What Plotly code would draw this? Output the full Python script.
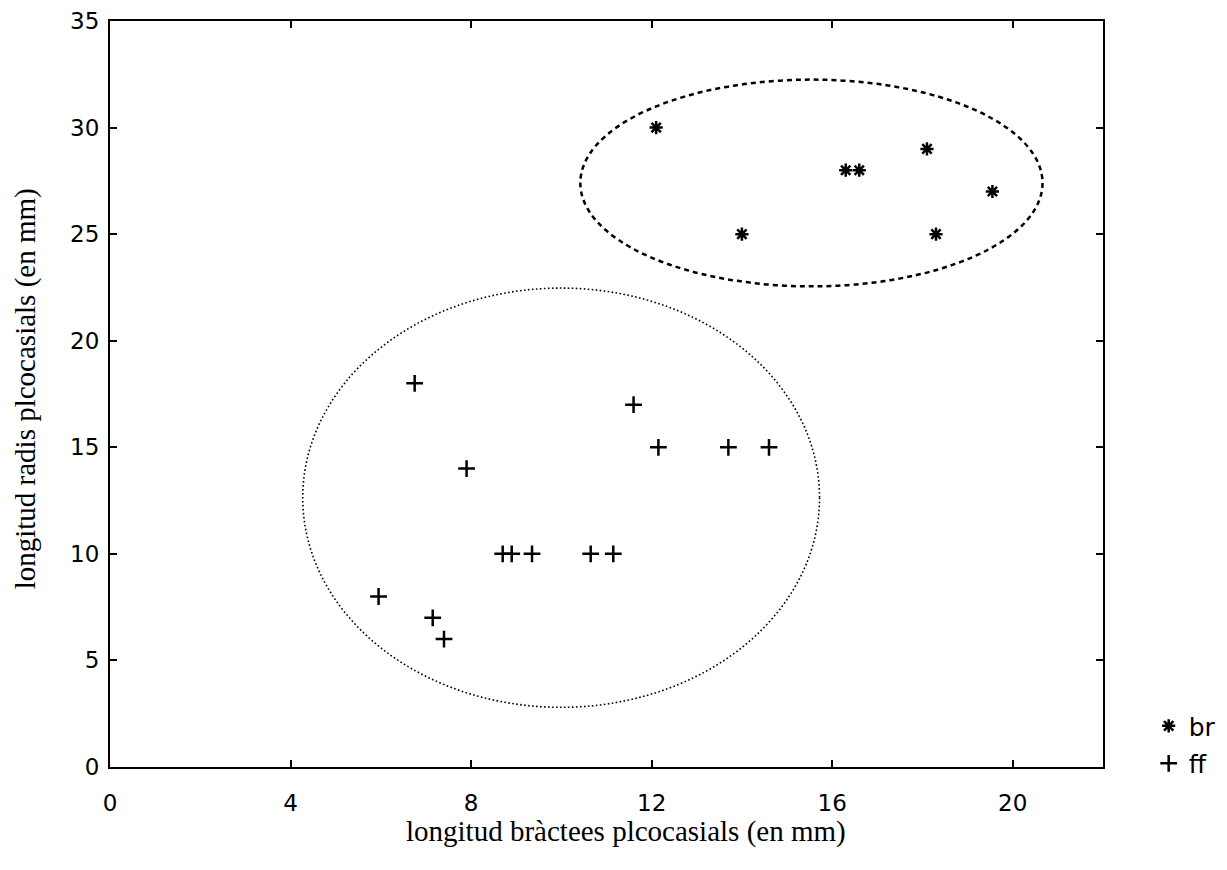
import plotly.graph_objects as go

# data
br_x = [12.1, 14.0, 16.3, 16.6, 18.1, 19.55, 18.3]
br_y = [30, 25, 28, 28, 29, 27, 25]
ff_x = [6.75, 11.6, 12.15, 13.7, 14.6, 7.9, 8.7, 8.9, 9.35, 10.65, 11.15, 5.95, 7.15, 7.4]
ff_y = [18, 17, 15, 15, 15, 14, 10, 10, 10, 10, 10, 8, 7, 6]
# ellipses: (x0, x1, y0, y1)
br_ellipse = [10.42, 20.66, 22.55, 32.25]
ff_ellipse = [4.27, 15.72, 2.80, 22.47]
x_ticks = [0, 4, 8, 12, 16, 20]
y_ticks = [0, 5, 10, 15, 20, 25, 30, 35]

fig = go.Figure()
fig.add_trace(go.Scatter(x=br_x, y=br_y, mode="markers", name="br", legendgroup="br",
                         marker=dict(symbol="asterisk-open", size=11, color="black",
                                     line=dict(width=2.5, color="black"))))
fig.add_trace(go.Scatter(x=ff_x, y=ff_y, mode="markers", name="ff", legendgroup="ff",
                         marker=dict(symbol="cross-thin-open", size=12, color="black",
                                     line=dict(width=2.5, color="black"))))

fig.add_shape(type="circle", xref="x", yref="y",
              x0=br_ellipse[0], x1=br_ellipse[1], y0=br_ellipse[2], y1=br_ellipse[3],
              line=dict(color="black", width=2.5, dash="5px,4px"))
fig.add_shape(type="circle", xref="x", yref="y",
              x0=ff_ellipse[0], x1=ff_ellipse[1], y0=ff_ellipse[2], y1=ff_ellipse[3],
              line=dict(color="black", width=1.6, dash="1.6px,2.4px"))

tickfont = dict(family="DejaVu Sans", size=23, color="black")
fig.update_layout(
    width=1227, height=870,
    margin=dict(l=102, r=132, t=13, b=111),
    paper_bgcolor="white", plot_bgcolor="white",
    showlegend=True,
    legend=dict(x=1.046, y=0.03, xanchor="left", yanchor="middle",
                font=dict(family="DejaVu Sans", size=25, color="black"),
                bgcolor="rgba(0,0,0,0)", traceorder="grouped", tracegroupgap=2,
                itemwidth=30),
    xaxis=dict(range=[0, 22], tickvals=x_ticks, ticks="inside", ticklen=7,
               tickwidth=1.5, tickcolor="black", showline=True, linecolor="black",
               linewidth=2, mirror="ticks", showgrid=False, zeroline=False,
               tickfont=tickfont, ticklabelstandoff=14, automargin=False),
    yaxis=dict(range=[0, 35], tickvals=y_ticks, ticks="inside", ticklen=7,
               tickwidth=1.5, tickcolor="black", showline=True, linecolor="black",
               linewidth=2, mirror="ticks", showgrid=False, zeroline=False,
               tickfont=tickfont, ticklabelstandoff=4, automargin=False),
    annotations=[
        dict(text="longitud bràctees plcocasials (en mm)", xref="paper", yref="paper",
             x=0.52, y=-0.086, xanchor="center", yanchor="middle", showarrow=False,
             font=dict(family="Liberation Serif", size=29, color="black")),
        dict(text="longitud radis plcocasials (en mm)", xref="paper", yref="paper",
             x=-0.085, y=0.507, xanchor="center", yanchor="middle", showarrow=False,
             textangle=-90,
             font=dict(family="Liberation Serif", size=29, color="black")),
    ],
)

fig.write_html("out.html")
